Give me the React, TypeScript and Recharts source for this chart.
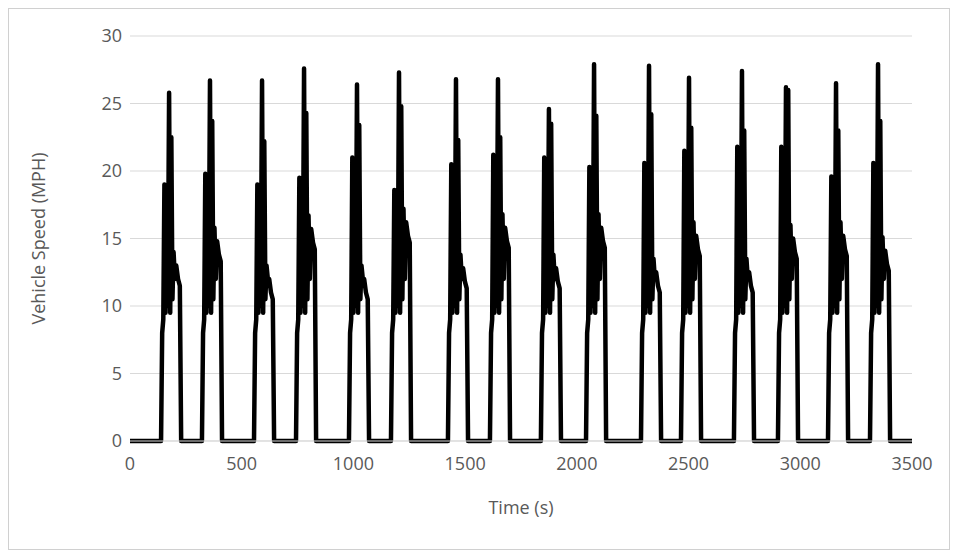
import React from 'react';
import { LineChart, Line, XAxis, YAxis, CartesianGrid } from 'recharts';

// start time (s) of each speed burst
const cycleStarts = [139, 322, 555, 743, 980, 1168, 1423, 1611, 1839, 2041, 2287, 2466, 2703, 2900, 3124, 3312];
// per-burst readings: first plateau, main peak, second peak, tail
const firstPeaks = [19.0, 19.8, 19.0, 19.5, 21.0, 18.6, 20.5, 21.2, 21.0, 20.3, 20.6, 21.5, 21.8, 21.8, 19.6, 20.6];
const mainPeaks = [25.8, 26.7, 26.7, 27.6, 26.4, 27.3, 26.8, 26.8, 24.6, 27.9, 27.8, 26.9, 27.4, 26.2, 26.5, 27.9];
const secondPeaks = [22.5, 23.7, 22.2, 24.3, 23.4, 24.8, 22.3, 22.5, 23.5, 24.1, 24.2, 23.2, 23.0, 26.0, 23.0, 23.7];
const tails = [13.0, 14.8, 12.0, 15.7, 12.0, 16.2, 12.8, 15.8, 12.8, 15.8, 12.5, 15.2, 12.5, 15.0, 15.2, 14.1];
// shape offsets (s) and low values within one burst
const offsets = [0, 5, 10, 15, 20, 25, 30, 36, 41, 46, 51, 56, 62, 68, 76, 84, 90];
const lows = [8.0, 9.0, 9.5, 10.0, 9.5, 10.5, 12.0];

const data: { t: number; v: number }[] = [{ t: 0, v: 0 }];
cycleStarts.forEach((s, i) => {
  const vals = [0, lows[0], lows[1], firstPeaks[i], lows[2], firstPeaks[i] - 0.5, lows[3], mainPeaks[i], lows[4],
    secondPeaks[i], lows[5], tails[i] + 1, lows[6], tails[i], tails[i] - 1, tails[i] - 1.5, 0];
  offsets.forEach((o, k) => data.push({ t: s + o, v: vals[k] }));
});
data.push({ t: 3500, v: 0 });

const xTicks = [0, 500, 1000, 1500, 2000, 2500, 3000, 3500];
const yTicks = [0, 5, 10, 15, 20, 25, 30];

const font = { fontFamily: 'Open Sans, sans-serif', fontSize: 18, fill: '#595959' };

export default function App() {
  return (
    <div style={{ width: 940, height: 540, border: '1px solid #d0d0d0', background: '#fff' }}>
      <LineChart width={940} height={540} data={data} margin={{ top: 27, right: 37, left: 0, bottom: 23 }}>
        <CartesianGrid vertical={false} stroke="#d9d9d9" />
        <XAxis dataKey="t" type="number" domain={[0, 3500]} ticks={xTicks} tickLine={false}
          axisLine={{ stroke: '#d9d9d9' }} tick={{ ...font, dy: 8 }} height={85}
          label={{ value: 'Time (s)', position: 'insideBottom', offset: 12, style: font }} />
        <YAxis type="number" domain={[0, 30]} ticks={yTicks} tickLine={false} axisLine={false}
          tick={font} width={121}
          label={{ value: 'Vehicle Speed (MPH)', angle: -90, position: 'insideLeft', offset: 30, style: { ...font, textAnchor: 'middle' } }} />
        <Line type="linear" dataKey="v" stroke="#000" strokeWidth={4.5} strokeLinejoin="round" dot={false} isAnimationActive={false} />
      </LineChart>
    </div>
  );
}
